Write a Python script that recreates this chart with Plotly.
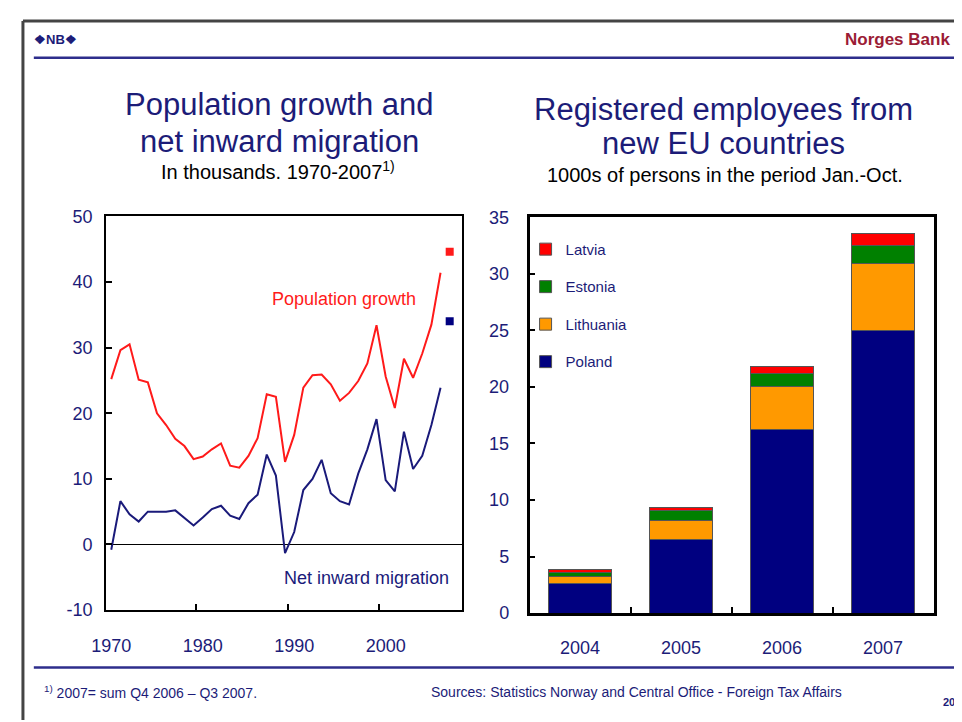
import plotly.graph_objects as go

# ---------------- data ----------------
years = list(range(1970, 2007))
population_growth = [25.2, 29.6, 30.5, 25.1, 24.7, 20.0, 18.2, 16.1, 15.0, 13.0,
                     13.4, 14.5, 15.4, 12.0, 11.7, 13.5, 16.2, 22.9, 22.5, 12.6,
                     16.7, 23.9, 25.8, 25.9, 24.4, 21.9, 23.1, 24.9, 27.6, 33.4,
                     25.6, 20.8, 28.3, 25.4, 29.1, 33.5, 41.4]
net_migration = [-0.8, 6.6, 4.6, 3.5, 5.0, 5.0, 5.0, 5.2, 4.1, 2.9,
                 4.1, 5.4, 5.9, 4.4, 3.9, 6.3, 7.6, 13.7, 10.5, -1.3,
                 1.9, 8.3, 10.0, 12.9, 7.8, 6.6, 6.1, 10.8, 14.5, 19.1,
                 9.8, 8.1, 17.2, 11.5, 13.5, 18.2, 23.9]
year_2007 = [2007]
population_growth_2007 = [44.6]
net_migration_2007 = [34.0]
left_xticks = [1970, 1980, 1990, 2000]
left_yticks = [-10, 0, 10, 20, 30, 40, 50]
left_yticklabels = ["-10", "0", "10", "20", "30", "40", "50"]

bar_years = ["2004", "2005", "2006", "2007"]
poland = [2.6, 6.5, 16.2, 25.0]
lithuania = [0.6, 1.7, 3.8, 5.95]
estonia = [0.4, 0.85, 1.15, 1.6]
latvia = [0.25, 0.3, 0.65, 1.0]

# ---------------- styling ----------------
W, H = 962, 722
OFF = 8  # page body margin
FONT = "Arial, Liberation Sans, sans-serif"
NAVY = "#1c1c78"
RED = "#ff1a1a"
LINE_NAVY = "#1a1a7a"


def px(x):
    return min(1.0, max(0.0, (x - OFF) / W))


def py(y):
    return min(1.0, max(0.0, 1 - (y - OFF) / H))


fig = go.Figure()

# left chart lines
fig.add_trace(go.Scatter(x=years, y=population_growth, mode="lines",
                         line=dict(color=RED, width=2), showlegend=False,
                         xaxis="x", yaxis="y"))
fig.add_trace(go.Scatter(x=years, y=net_migration, mode="lines",
                         line=dict(color=LINE_NAVY, width=2), showlegend=False,
                         xaxis="x", yaxis="y"))
fig.add_trace(go.Scatter(x=year_2007, y=population_growth_2007, mode="markers",
                         marker=dict(symbol="square", size=8, color=RED),
                         showlegend=False, xaxis="x", yaxis="y"))
fig.add_trace(go.Scatter(x=year_2007, y=net_migration_2007, mode="markers",
                         marker=dict(symbol="square", size=8, color="#000080"),
                         showlegend=False, xaxis="x", yaxis="y"))

# right chart stacked bars
bar_series = [("Poland", poland, "#000080", 4),
              ("Lithuania", lithuania, "#ff9900", 3),
              ("Estonia", estonia, "#008000", 2),
              ("Latvia", latvia, "#ff0000", 1)]
for name, vals, col, rank in bar_series:
    fig.add_trace(go.Bar(x=bar_years, y=vals, name=name, legendgroup=name,
                         legendrank=rank,
                         marker=dict(color=col, line=dict(color="#555555", width=1)),
                         xaxis="x2", yaxis="y2"))

fig.update_layout(
    width=W, height=H,
    margin=dict(l=0, r=0, t=0, b=0),
    paper_bgcolor="white", plot_bgcolor="white",
    font=dict(family=FONT, color=NAVY),
    barmode="stack", bargap=0.375,
    showlegend=True,
    legend=dict(x=px(519), y=py(229), xanchor="left", yanchor="top",
                traceorder="grouped", tracegroupgap=15,
                font=dict(size=15, color=NAVY), bgcolor="rgba(0,0,0,0)",
                itemwidth=30),
    xaxis=dict(domain=[px(93), px(455)], range=[1969.4, 2008.4],
               tickvals=left_xticks, ticks="", showgrid=False, zeroline=False,
               showline=True, linecolor="black", linewidth=1.5, mirror=True,
               tickfont=dict(size=18, color=NAVY), ticklabelstandoff=19,
               minor=dict(tick0=1979.27, dtick=10, ticks="inside", ticklen=6,
                          tickcolor="black", tickwidth=1.5),
               anchor="y"),
    yaxis=dict(domain=[py(617), py(212)], range=[-10, 50],
               tickvals=left_yticks, ticktext=left_yticklabels,
               ticks="inside", ticklen=6, tickcolor="black", tickwidth=1.5,
               showgrid=False, zeroline=True, zerolinecolor="black", zerolinewidth=1.2,
               showline=True, linecolor="black", linewidth=1.5, mirror=True,
               tickfont=dict(size=18, color=NAVY), ticklabelstandoff=8,
               anchor="x"),
    xaxis2=dict(domain=[px(523), px(933)], type="category",
                ticks="inside", tickson="boundaries", ticklen=6, tickcolor="black",
                tickwidth=2, showgrid=False,
                showline=True, linecolor="black", linewidth=2.5, mirror=True,
                tickfont=dict(size=18, color=NAVY), ticklabelstandoff=17,
                anchor="y2"),
    yaxis2=dict(domain=[py(620), py(213)], range=[0, 35], dtick=5,
                ticks="inside", ticklen=6, tickcolor="black", tickwidth=2,
                showgrid=False, zeroline=False,
                showline=True, linecolor="black", linewidth=2.5, mirror=True,
                tickfont=dict(size=18, color=NAVY), ticklabelstandoff=14,
                anchor="x2"),
)

texts = [
    # left titles
    ("Population growth and", 269, 97, 31, NAVY, "center"),
    ("net inward migration", 269, 135, 31, NAVY, "center"),
    ("In thousands. 1970-2007<sup>1)</sup>", 268, 165, 20, "black", "center"),
    # right titles
    ("Registered employees from", 720, 102, 31, NAVY, "center"),
    ("new EU countries", 720, 137, 31, NAVY, "center"),
    ("1000s of persons in the period Jan.-Oct.", 721, 169, 20, "black", "center"),
    # series labels
    ("Population growth", 335, 297, 18, RED, "center"),
    ("Net inward migration", 358, 584, 18, LINE_NAVY, "center"),
    # header / footer
    ("<b>❖NB❖</b>", 18, 30, 13, NAVY, "left"),
    ("<b>Norges Bank</b>", 952, 30, 17, "#9b1b35", "right"),
    ("<sup>1)</sup> 2007= sum Q4 2006 – Q3 2007.", 28, 701, 14, NAVY, "left"),
    ("Sources: Statistics Norway and Central Office - Foreign Tax Affairs", 421, 701, 14, NAVY, "left"),
    ("<b>20</b>", 941, 712, 11, NAVY, "left"),
]
ann_objs = []
for text, x, y, size, color, anchor in texts:
    ann_objs.append(dict(text=text, x=px(x), y=py(y), xref="paper", yref="paper",
                         xanchor=anchor, yanchor="middle", showarrow=False,
                         font=dict(family=FONT, size=size, color=color)))
fig.update_layout(annotations=ann_objs)

shapes = [
    # page frame
    dict(type="line", xref="paper", yref="paper", x0=0.001, x1=1, y0=py(11), y1=py(11),
         line=dict(color="#444444", width=3)),
    dict(type="line", xref="paper", yref="paper", x0=0.001, x1=0.001, y0=py(11), y1=0,
         line=dict(color="#444444", width=3)),
    # header and footer rules
    dict(type="line", xref="paper", yref="paper", x0=px(20), x1=px(955), y0=py(49), y1=py(49),
         line=dict(color="#2e2e8c", width=2.5)),
    dict(type="line", xref="paper", yref="paper", x0=px(20), x1=px(955), y0=py(676), y1=py(676),
         line=dict(color="#2e2e8c", width=2.5)),
]
fig.update_layout(shapes=shapes)

fig.write_html("out.html")
